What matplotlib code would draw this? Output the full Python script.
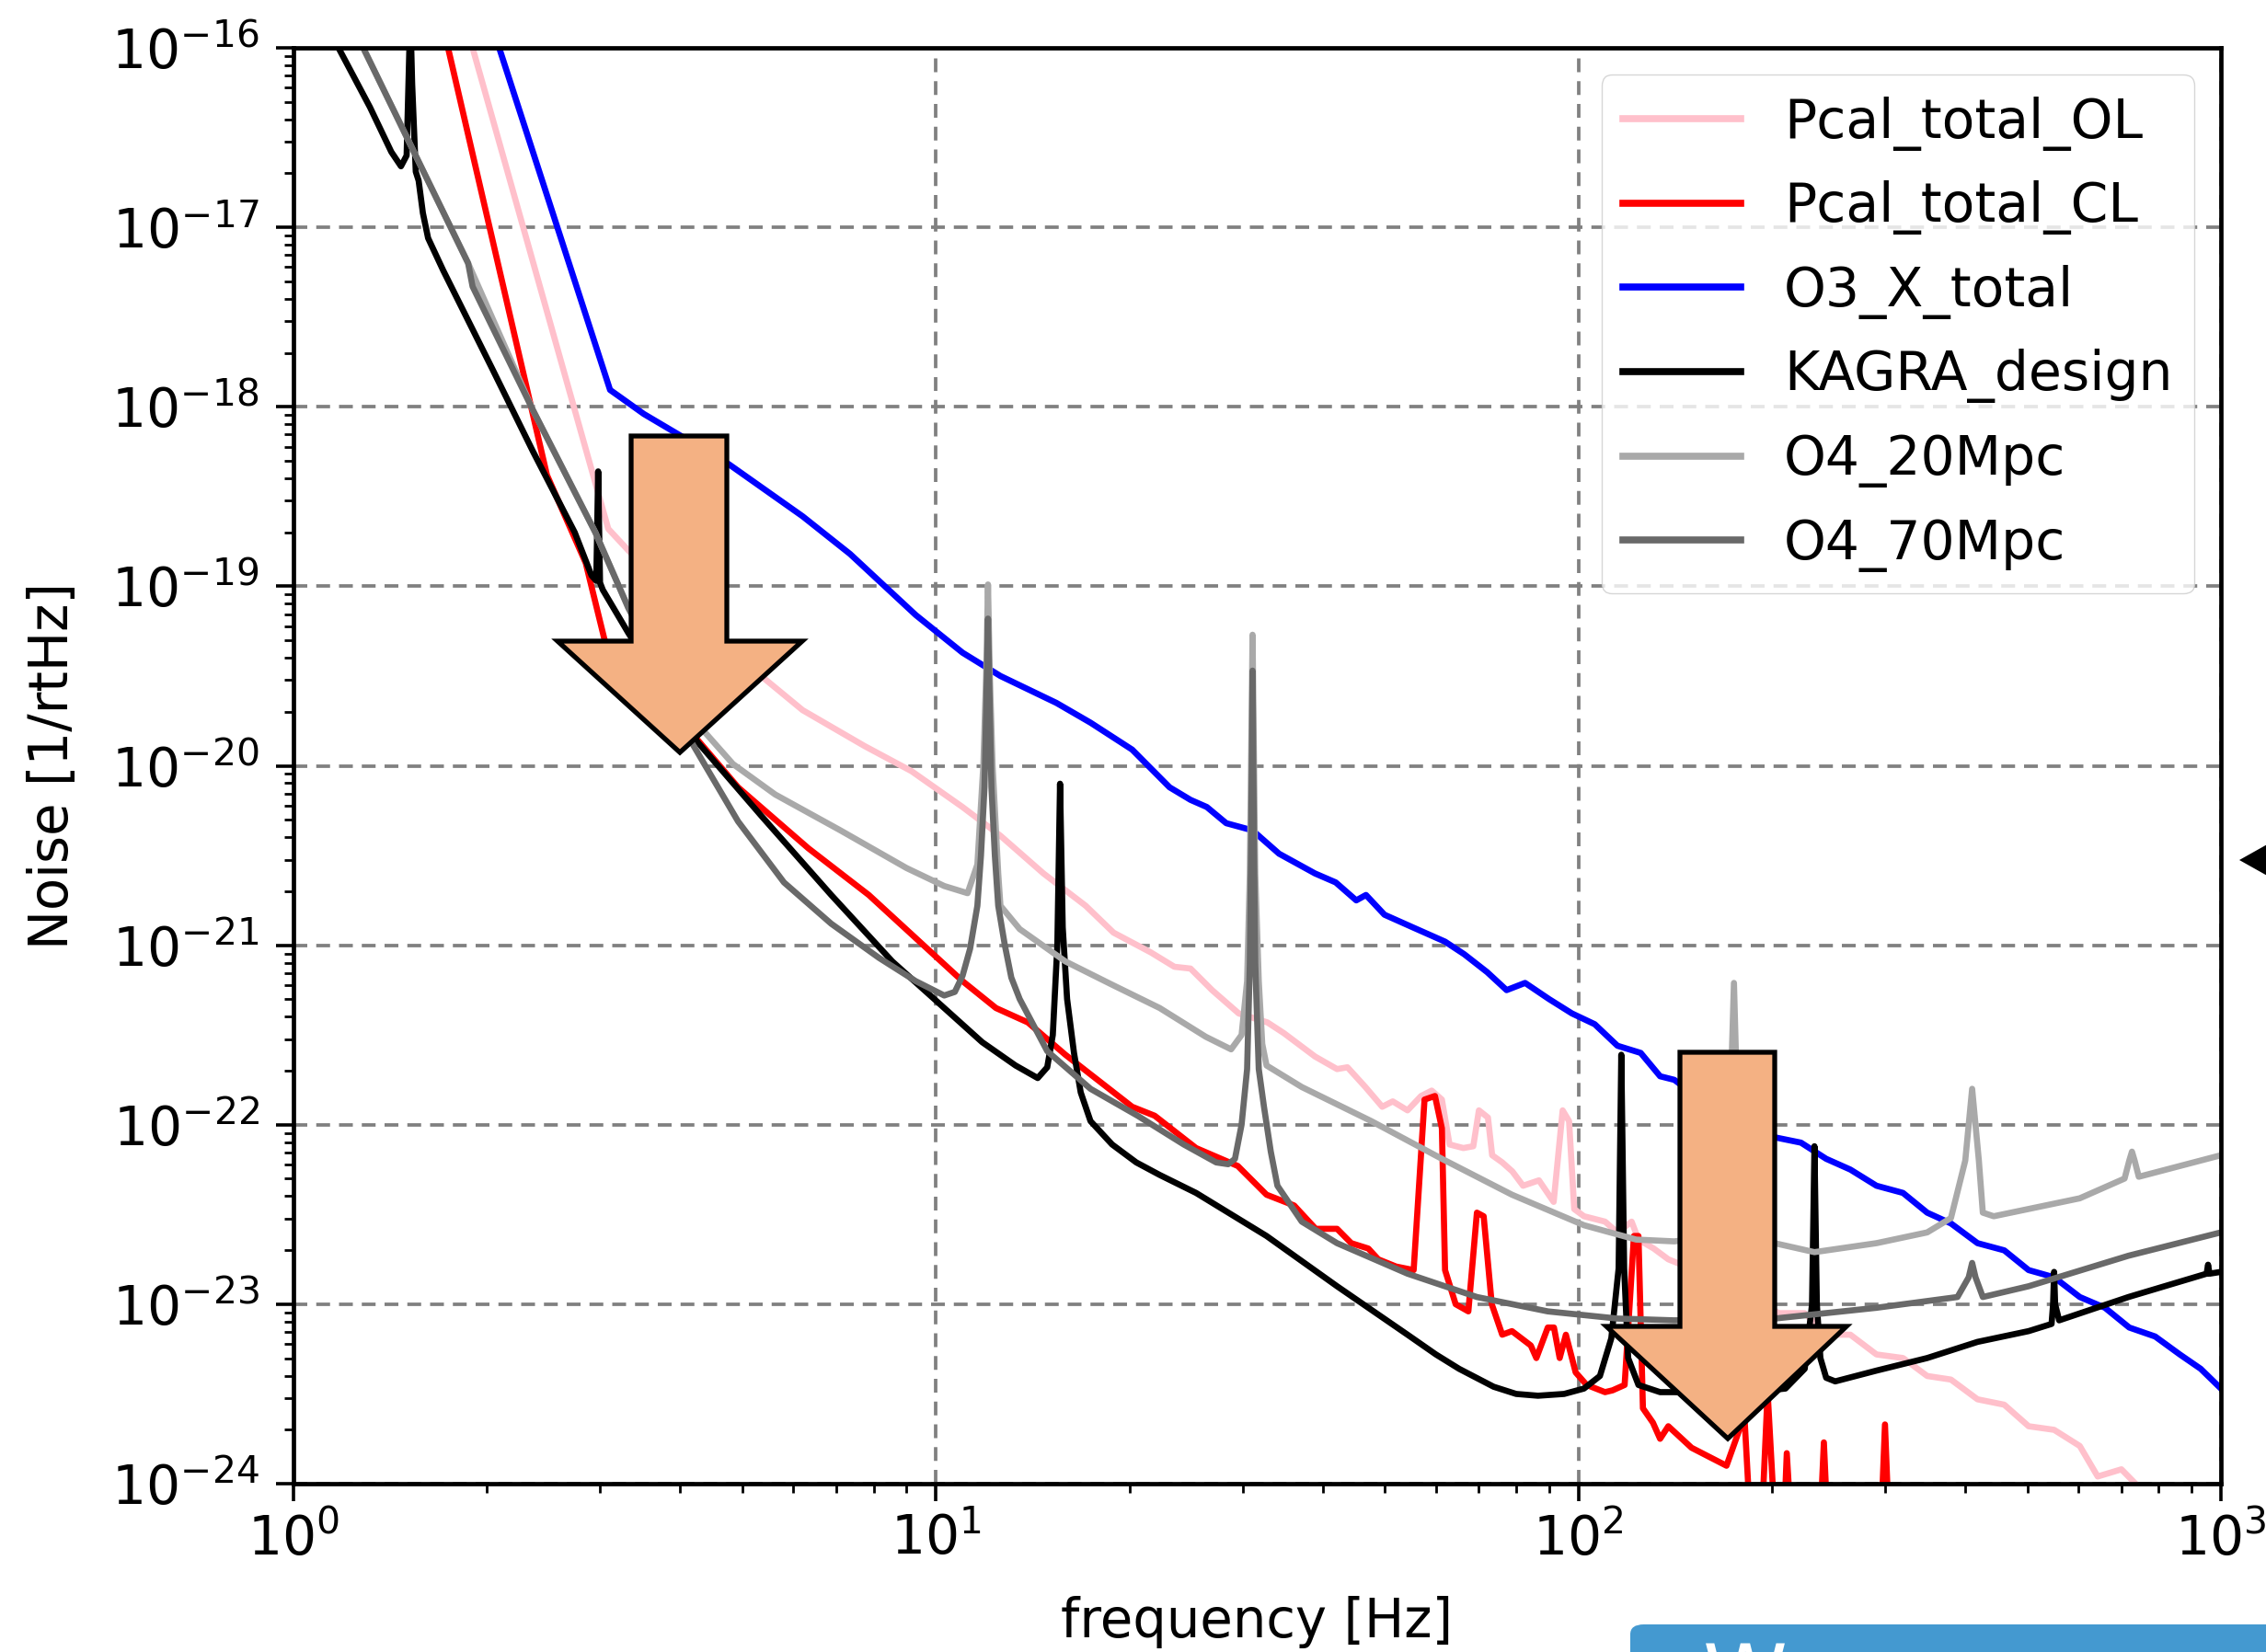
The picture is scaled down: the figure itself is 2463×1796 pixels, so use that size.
import numpy as np
import matplotlib.pyplot as plt
from matplotlib.patches import Polygon, FancyBboxPatch

W, H = 2463, 1796

# frequency [Hz] and log10(noise [1/rtHz])
ol_f = [1.90, 3.09, 3.32, 4.3, 5.43, 6.2, 7.74, 9.16, 11.0, 12.6, 14.7, 17.1, 18.9, 21.6,
        23.5, 24.9, 26.9, 29.6, 32.8, 34.8, 38.9, 42.1, 43.7, 46.6, 49.5, 51.4, 54.2, 56.9,
        59.1, 61.3, 63, 66.2, 68.6, 70, 72.3, 73.4, 76.1, 78.9, 82, 86.8, 91.5, 94.5, 96.7,
        98.5, 102, 110, 115, 121, 124, 131, 138, 170, 205, 225, 243, 265, 291, 320, 349, 380,
        418, 460, 502, 550, 603, 643, 700, 760]
ol_v = [-16.0, -18.68, -18.80, -19.2, -19.52, -19.69, -19.89, -20.03, -20.23, -20.39, -20.60,
        -20.78, -20.93, -21.04, -21.12, -21.13, -21.25, -21.38, -21.43, -21.49, -21.62, -21.69,
        -21.68, -21.79, -21.90, -21.87, -21.92, -21.84, -21.81, -21.86, -22.11, -22.13, -22.12,
        -21.92, -21.96, -22.17, -22.21, -22.26, -22.34, -22.31, -22.43, -21.92, -21.98, -22.47,
        -22.51, -22.54, -22.60, -22.54, -22.64, -22.69, -22.75, -22.88, -23.05, -23.05, -23.17,
        -23.17, -23.28, -23.30, -23.40, -23.42, -23.53, -23.56, -23.68, -23.70, -23.79, -23.96,
        -23.92, -24.05]

cl_f = [1.74, 2.48, 2.85, 3.05, 3.6, 4.15, 4.92, 6.33, 7.86, 9.63, 11.0, 12.4, 13.9, 15.9,
        20.2, 21.9, 25.4, 29.5, 32.7, 36.1, 39.0, 42.1, 44.3, 47.1, 48.8, 52.0, 55.4, 57.6,
        59.8, 61.3, 62, 64.4, 67.4, 69.5, 71.2, 73.3, 76.1, 78.8, 84.3, 86, 89.6, 91.6, 93.5,
        95.6, 99, 103, 110, 113, 118, 122, 124, 126, 130.6, 134, 138, 150, 170, 178, 181, 185,
        193, 197, 202, 209, 211, 214, 238, 241, 244, 296, 300, 304, 320]
cl_v = [-16.0, -18.38, -18.87, -19.30, -19.6, -19.81, -20.12, -20.46, -20.72, -21.01, -21.20,
        -21.35, -21.43, -21.61, -21.90, -21.95, -22.13, -22.23, -22.39, -22.45, -22.58, -22.58,
        -22.66, -22.69, -22.75, -22.79, -22.81, -21.86, -21.84, -22.02, -22.81, -23.00, -23.04,
        -22.49, -22.51, -23.00, -23.17, -23.15, -23.23, -23.30, -23.13, -23.13, -23.30, -23.17,
        -23.38, -23.45, -23.49, -23.48, -23.45, -22.62, -22.62, -23.58, -23.66, -23.75, -23.68,
        -23.80, -23.90, -23.7, -23.58, -24.2, -24.2, -23.49, -24.2, -24.2, -23.83, -24.2, -24.2,
        -23.77, -24.2, -24.2, -23.67, -24.2, -24.2]

o3_f = [2.09, 3.11, 3.51, 4.76, 6.2, 7.35, 9.3, 11.0, 12.6, 15.4, 17.4, 20.2, 23.1, 24.9,
        26.4, 28.3, 31.1, 34.2, 38.9, 41.9, 45.1, 46.7, 49.9, 55.2, 62, 66.4, 72.1, 77.3, 82.6,
        90, 97.7, 106, 115, 125, 134, 141, 155, 168, 185, 202, 222, 243, 265, 291, 320, 349,
        380, 418, 460, 502, 550, 603, 660, 720, 790, 863, 930, 1000]
o3_v = [-16.0, -17.906, -18.04, -18.32, -18.61, -18.82, -19.16, -19.37, -19.50, -19.65, -19.76,
        -19.91, -20.12, -20.19, -20.23, -20.32, -20.36, -20.49, -20.60, -20.65, -20.75, -20.72,
        -20.83, -20.90, -20.98, -21.05, -21.15, -21.25, -21.21, -21.30, -21.38, -21.44, -21.56,
        -21.60, -21.73, -21.75, -21.86, -21.92, -21.96, -22.07, -22.10, -22.19, -22.25, -22.34,
        -22.38, -22.49, -22.55, -22.66, -22.70, -22.81, -22.85, -22.96, -23.02, -23.13, -23.18,
        -23.28, -23.36, -23.47]

kagra_f = [1.175, 1.315, 1.42, 1.47, 1.50, 1.51, 1.52, 1.53, 1.55, 1.566, 1.59, 1.62, 1.71,
           2.04, 2.36, 2.74, 2.91, 2.96, 2.98, 3.00, 3.03, 3.32, 4.26, 5.35, 6.87, 8.55, 9.94,
           11.8, 13.3, 14.4, 14.9, 15.2, 15.45, 15.6, 15.75, 16.0, 16.4, 16.8, 17.4, 18.8, 20.5,
           22.3, 25.4, 32.7, 42.1, 54.2, 60, 65.2, 73.8, 80, 86.5, 95, 102, 108, 112.5, 115.5,
           116.6, 117.8, 119.5, 124, 134, 141, 175, 210, 225, 231, 233, 235, 238, 243, 251, 291,
           349, 418, 502, 545, 548, 550, 552, 560, 718, 950, 955, 960, 1000]
kagra_v = [-16.0, -16.33, -16.58, -16.66, -16.60, -16.2, -15.8, -16.2, -16.69, -16.74, -16.92,
           -17.06, -17.24, -17.79, -18.25, -18.70, -18.94, -18.97, -18.36, -18.98, -19.02,
           -19.26, -19.87, -20.28, -20.72, -21.09, -21.30, -21.54, -21.67, -21.74, -21.68,
           -21.5, -21.0, -20.10, -20.9, -21.3, -21.6, -21.82, -21.98, -22.11, -22.21, -22.28,
           -22.38, -22.62, -22.90, -23.17, -23.28, -23.36, -23.46, -23.50, -23.51, -23.50,
           -23.47, -23.40, -23.19, -22.8, -21.61, -22.8, -23.30, -23.45, -23.49, -23.49, -23.50,
           -23.47, -23.36, -23.0, -22.12, -23.0, -23.30, -23.41, -23.43, -23.37, -23.30, -23.21,
           -23.15, -23.11, -23.0, -22.82, -23.0, -23.09, -22.96, -22.83, -22.78, -22.83, -22.82]

o4_20_f = [1.284, 1.87, 2.36, 2.95, 3.32, 3.8, 4.36, 4.83, 5.62, 7.1, 9.0, 10.3, 11.2, 11.6,
           11.85, 11.97, 12.05, 12.13, 12.25, 12.5, 12.6, 13.5, 15.9, 18.8, 22.3, 26.3, 28.8,
           29.9, 30.5, 30.8, 31.1, 31.4, 31.8, 32.2, 32.7, 37.1, 47.6, 61.3, 78.8, 102, 123, 141,
           165, 171, 174.6, 178, 185, 202, 233, 291, 349, 380, 400, 410, 420, 426, 443, 603,
           708, 720, 727, 734, 745, 1000]
o4_20_v = [-16.0, -17.2, -18.02, -18.70, -19.12, -19.5, -19.81, -19.99, -20.16, -20.36, -20.57,
           -20.67, -20.71, -20.55, -20.0, -19.5, -18.99, -19.5, -20.0, -20.6, -20.78, -20.91,
           -21.09, -21.22, -21.35, -21.51, -21.58, -21.50, -21.2, -20.6, -19.27, -20.6, -21.2,
           -21.55, -21.67, -21.79, -21.98, -22.19, -22.39, -22.56, -22.64, -22.65, -22.62,
           -22.3, -21.21, -22.3, -22.64, -22.66, -22.71, -22.66, -22.60, -22.52, -22.2, -21.80,
           -22.2, -22.49, -22.51, -22.41, -22.30, -22.2, -22.15, -22.2, -22.29, -22.17]

o4_70_f = [1.284, 1.87, 1.90, 2.36, 2.95, 3.32, 3.7, 4.15, 4.92, 5.8, 6.87, 8.15, 9.3, 10.3,
           10.7, 11.0, 11.3, 11.6, 11.75, 11.9, 11.97, 12.05, 12.13, 12.2, 12.35, 12.5, 12.8,
           13.1, 13.5, 14.9, 17.4, 20.6, 24.3, 27.3, 28.5, 29.2, 29.9, 30.5, 30.8, 30.95, 31.05,
           31.1, 31.15, 31.25, 31.4, 31.8, 32.4, 33.2, 34.0, 37.1, 42.1, 54.2, 69.5, 89.6, 115,
           141, 202, 291, 389, 405, 410, 415, 426, 502, 718, 1000]
o4_70_v = [-16.0, -17.2, -17.33, -18.02, -18.70, -19.12, -19.45, -19.86, -20.31, -20.65,
           -20.88, -21.07, -21.20, -21.28, -21.26, -21.17, -21.02, -20.78, -20.5, -20.12, -19.7,
           -19.18, -19.7, -20.12, -20.5, -20.78, -21.0, -21.18, -21.30, -21.59, -21.80, -21.95,
           -22.11, -22.21, -22.22, -22.19, -22.0, -21.69, -21.1, -20.39, -19.8, -19.47, -19.8,
           -20.39, -21.1, -21.69, -21.9, -22.15, -22.34, -22.54, -22.66, -22.83, -22.96, -23.04,
           -23.08, -23.09, -23.08, -23.02, -22.96, -22.85, -22.77, -22.85, -22.96, -22.90,
           -22.73, -22.60]

series = [
    (ol_f, ol_v, 'pink', 'Pcal_total_OL'),
    (cl_f, cl_v, 'red', 'Pcal_total_CL'),
    (o3_f, o3_v, 'blue', 'O3_X_total'),
    (kagra_f, kagra_v, 'black', 'KAGRA_design'),
    (o4_20_f, o4_20_v, 'darkgray', 'O4_20Mpc'),
    (o4_70_f, o4_70_v, 'dimgray', 'O4_70Mpc'),
]

fig = plt.figure(figsize=(W / 100, H / 100), dpi=100)
ax = fig.add_axes([319 / W, 1 - 1613 / H, (2414 - 319) / W, (1613 - 52) / H])

for f, v, c, lab in series:
    ax.plot(f, 10 ** np.array(v), color=c, linewidth=4.8, label=lab)

ax.set_xscale('log')
ax.set_yscale('log')
ax.set_xlim(1, 1000)
ax.set_ylim(1e-24, 1e-16)

ax.grid(True, which='major', color='gray', linewidth=2.7, linestyle=(0, (4.0, 2.6)))
for s in ax.spines.values():
    s.set_linewidth(3.4)
ax.tick_params(which='major', length=14, width=2.6, labelsize=42)
ax.tick_params(which='minor', length=7.5, width=2.0)
ax.tick_params(axis='x', which='major', pad=9)
ax.tick_params(axis='y', which='major', pad=13)

ax.set_xlabel('frequency [Hz]', fontsize=41.5)
ax.set_ylabel('Noise [1/rtHz]', fontsize=41.5)
ax.xaxis.set_label_coords(0.5, -0.078)
ax.yaxis.set_label_coords(-0.111, 0.5)

leg = ax.legend(loc='upper right', fontsize=42, handlelength=2.2, labelspacing=0.56)
for ln in leg.get_lines():
    ln.set_linewidth(5.5)


# slide overlays, placed in picture pixels
def px(pts):
    return [(x / W, 1 - y / H) for x, y in pts]


arrows = [
    (686, 790, 474, 697, 606, 872, 739, 818),
    (1826, 1929, 1144, 1442, 1746, 2007, 1878, 1564),
]
for sl, sr, top, base, hl, hr, tx, ty in arrows:
    pts = [(sl, top), (sr, top), (sr, base), (hr, base), (tx, ty), (hl, base), (sl, base)]
    fig.add_artist(Polygon(px(pts), closed=True, transform=fig.transFigure,
                           facecolor='#F4B183', edgecolor='black', linewidth=3.8,
                           joinstyle='miter', zorder=5))

fig.add_artist(Polygon(px([(2434, 935), (2475, 912), (2475, 958)]), closed=True,
                       transform=fig.transFigure, facecolor='black', edgecolor='none',
                       zorder=5))

x0, y0 = px([(1772, 1766)])[0]
fig.add_artist(FancyBboxPatch((x0, y0 - 0.2), 0.5, 0.2, boxstyle='round,pad=0,rounding_size=0.006',
                              transform=fig.transFigure, facecolor='#4499D0',
                              edgecolor='none', zorder=5))
fig.text(1851 / W, 1 - 1783 / H, 'W', color='white', fontsize=67, va='top', ha='left',
         zorder=6)

fig.savefig('out.png', dpi=100)
